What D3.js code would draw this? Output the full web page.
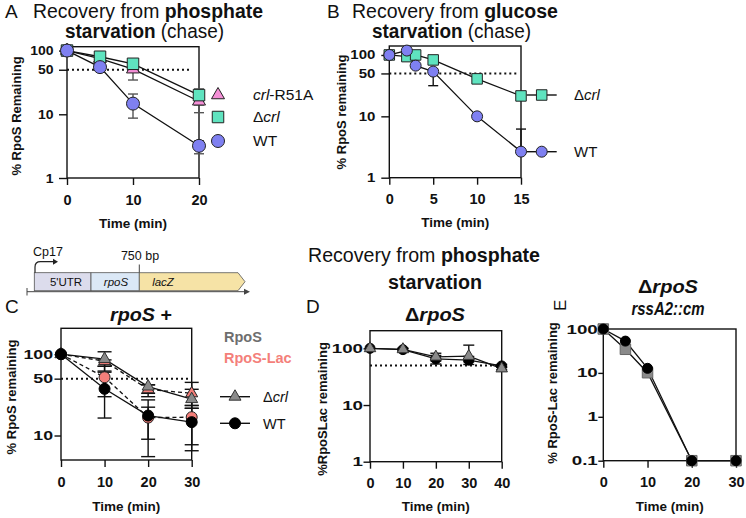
<!DOCTYPE html>
<html><head><meta charset="utf-8">
<script src="https://cdn.jsdelivr.net/npm/d3@7"></script>
<style>body{margin:0;background:#fff}svg{display:block}</style>
</head><body>
<svg id="fig" width="746" height="518"></svg>
<script>
// ================= DATA =================
// Panel A: recovery from phosphate starvation (chase)
const timeA = [0, 5, 10, 20];
const aR51A   = [100, 75, 51, 16];
const aR51ALo = [null, null, 34.5, 10.6];
const aR51AHi = [null, null, 62, 22];
const aCrl    = [100, 80, 62, 20];
const aCrlLo  = [null, null, 56, 14];
const aCrlHi  = [null, null, 66, 25];
const aWT     = [100, 55, 14.7, 3.2];
const aWTLo   = [null, 52, 8.7, 2.4];
const aWTHi   = [null, 58, 20.8, 3.85];
const xTicksA = [0, 10, 20];
const yTicksA = [1, 10, 50, 100];
const halfA = [0, 18.5];

// Panel B: recovery from glucose starvation (chase)
const timeB = [0, 2, 3, 5, 10, 15];
const bCrl    = [100, 94, 100, 83, 40.8, 21.5];
const bCrlLo  = [null, null, null, 73, null, null];
const bCrlHi  = [null, null, null, 88, null, null];
const bWT     = [100, 118, 67, 53.6, 10, 2.66];
const bWTLo   = [null, null, null, 31.6, null, null];
const bWTHi   = [null, null, null, 58, null, 6.2];
const xTicksB = [0, 5, 10, 15];
const yTicksB = [1, 10, 50, 100];
const halfB = [0, 14.7];

// Panel C: rpoS +
const timeC = [0, 10, 20, 30];
const cCrlLac   = [100, 82, 37, 33];
const cCrlLacLo = [null, 62, 30, 23.4];
const cCrlLacHi = [null, 85, 42, 45];
const cWTLac    = [100, 52, 16.6, 16.8];
const cWTLacLo  = [null, 30, 9, 6.5];
const cWTLacHi  = [null, 71, 22.3, 21.6];
const cCrlRpoS   = [100, 87, 40, 28];
const cCrlRpoSLo = [null, 71, 33, 21.6];
const cCrlRpoSHi = [null, 107, 42, 37];
const cWTRpoS    = [100, 37.5, 17.6, 14.6];
const cWTRpoSLo  = [null, 16.4, 5.5, 7.7];
const cWTRpoSHi  = [null, 60, 27.4, 23.4];
const xTicksC = [0, 10, 20, 30];
const yTicksC = [10, 50, 100];
const halfC = [0, 30];

// Panel D: ΔrpoS
const timeD = [0, 10, 20, 30, 40];
const dCirc   = [100, 95, 65, 62, 49];
const dCircLo = [null, 90, 53, 52, 46];
const dCircHi = [null, 100, 75, 72, 52];
const dTri    = [100, 96, 71, 73, 44];
const dTriLo  = [null, 90, 60, 58, 42];
const dTriHi  = [null, 100, 82, 114, 47];
const xTicksD = [0, 10, 20, 30, 40];
const yTicksD = [1, 10, 100];
const halfD = [0, 40];

// Panel E: ΔrpoS rssA2::cm
const timeE = [0, 5, 10, 20, 30];
const eSq   = [100, 34.5, 10.1, 0.1, 0.1];
const eCirc = [100, 53, 12.7, 0.1, 0.1];
const xTicksE = [0, 10, 20, 30];
const yTicksE = [0.1, 1, 10, 100];

// ================= DRAWING =================
const FONT = '"Liberation Sans", Arial, Helvetica, sans-serif';
const svg = d3.select("#fig").attr("font-family", FONT);

const C_CIRC = "#7f80f1", C_SQ = "#5fe3bf", C_TRI = "#f48fd6";
const C_GRAY = "#8a8a8a", C_PINK = "#f47f7a";

function styleAxis(sel, fs) {
  sel.attr("font-family", FONT).attr("font-size", null);
  sel.select(".domain").remove();
  sel.selectAll(".tick line").attr("stroke", "#111").attr("stroke-width", 1.4);
  sel.selectAll(".tick text").attr("font-size", fs).attr("font-weight", "bold").attr("fill", "#111");
}

function makePanel(o) {
  const g = svg.append("g");
  const x = d3.scaleLinear().domain(o.xDomain).range([o.left, o.right]);
  const y = d3.scaleLog().domain(o.yDomain).range([o.bottom, o.top]);
  g.append("rect").attr("x", o.left).attr("y", o.top)
    .attr("width", o.right - o.left).attr("height", o.bottom - o.top)
    .attr("fill", "none").attr("stroke", "#111").attr("stroke-width", 1.4);
  const ya = g.append("g").attr("transform", `translate(${o.left},0)`)
    .call(d3.axisLeft(y).tickValues(o.yTicks).tickFormat(d3.format("~g")).tickSize(o.yts).tickPadding(o.ygap - o.yts))
    .call(styleAxis, 12.5);
  ya.selectAll(".tick text").attr("x", -o.ygap / o.ysx).attr("transform", `scale(${o.ysx},1)`);
  g.append("g").attr("transform", `translate(0,${o.bottom})`)
    .call(d3.axisBottom(x).tickValues(o.xTicks).tickFormat(d3.format("~g")).tickSize(7).tickPadding(9.5))
    .call(styleAxis, 14.5);
  if (o.half) {
    g.append("line").attr("x1", x(o.half[0])).attr("x2", x(o.half[1]))
      .attr("y1", y(50)).attr("y2", y(50))
      .attr("stroke", "#111").attr("stroke-width", 2).attr("stroke-dasharray", "2,3");
  }
  g.append("text").attr("transform", `translate(${o.ylx},${o.yly}) rotate(-90)`)
    .attr("text-anchor", "middle").attr("dy", "0.35em")
    .attr("font-size", 13).attr("font-weight", "bold").attr("fill", "#111").text(o.ylabel);
  g.append("text").attr("x", (o.left + o.right) / 2 + (o.xlDx || 0)).attr("y", o.bottom + o.xlDy)
    .attr("text-anchor", "middle").attr("dy", "0.35em")
    .attr("font-size", 13.5).attr("font-weight", "bold").attr("fill", "#111").text("Time (min)");
  return { g, x, y };
}

function symPath(shape, d) {
  if (shape === "circle") return d3.symbol(d3.symbolCircle, Math.PI * d * d / 4)();
  if (shape === "square") return d3.symbol(d3.symbolSquare, d * d)();
  return d3.symbol(d3.symbolTriangle, Math.sqrt(3) / 4 * d * d)();
}

function drawErr(p, xs, lo, hi, opt) {
  const cw = opt.capW || 10;
  xs.forEach((t, i) => {
    if (lo && lo[i] != null || hi && hi[i] != null) {
      const l = lo && lo[i] != null ? lo[i] : opt.vals[i];
      const h = hi && hi[i] != null ? hi[i] : opt.vals[i];
      const X = p.x(t);
      p.g.append("line").attr("x1", X).attr("x2", X).attr("y1", p.y(l)).attr("y2", p.y(h))
        .attr("stroke", opt.errColor || "#111").attr("stroke-width", 1.4);
      [l, h].forEach(v => {
        if (v !== opt.vals[i]) p.g.append("line").attr("x1", X - cw / 2).attr("x2", X + cw / 2)
          .attr("y1", p.y(v)).attr("y2", p.y(v))
          .attr("stroke", opt.errColor || "#111").attr("stroke-width", 1.4);
      });
    }
  });
}

function drawLine(p, xs, vals, opt) {
  p.g.append("path").datum(xs.map((t, i) => [t, vals[i]]))
    .attr("d", d3.line().x(d => p.x(d[0])).y(d => p.y(d[1])))
    .attr("fill", "none").attr("stroke", "#111").attr("stroke-width", opt.lw || 1.3)
    .attr("stroke-dasharray", opt.dash || null);
}

function drawMarks(p, xs, vals, opt) {
  p.g.selectAll(null).data(xs.map((t, i) => [t, vals[i]])).enter().append("path")
    .attr("transform", d => `translate(${p.x(d[0])},${p.y(d[1])})`)
    .attr("d", symPath(opt.shape, opt.size))
    .attr("fill", opt.fill).attr("stroke", opt.stroke || "#222").attr("stroke-width", opt.sw || 1);
}

function legendMark(x, y, shape, size, fill, stroke, lineHalf) {
  if (lineHalf) svg.append("line").attr("x1", x - lineHalf).attr("x2", x + lineHalf)
    .attr("y1", y).attr("y2", y).attr("stroke", "#111").attr("stroke-width", 1.4);
  svg.append("path").attr("transform", `translate(${x},${y})`).attr("d", symPath(shape, size))
    .attr("fill", fill).attr("stroke", stroke || "#222").attr("stroke-width", 1);
}

function richText(x, y, parts, o) {
  const t = svg.append("text").attr("x", x).attr("y", y).attr("font-size", o.size)
    .attr("fill", o.fill || "#111").attr("text-anchor", o.anchor || "start");
  if (o.len) t.attr("textLength", o.len).attr("lengthAdjust", "spacingAndGlyphs");
  parts.forEach(pt => {
    t.append("tspan").attr("font-weight", pt.b ? "bold" : "normal")
      .attr("font-style", pt.i ? "italic" : "normal").attr("fill", pt.c || null).text(pt.t);
  });
  return t;
}

// ---------- Panel A ----------
const pA = makePanel({ left: 67, right: 199, top: 46.7, bottom: 178, xDomain: [0, 20], yDomain: [1, 115],
  xTicks: xTicksA, yTicks: yTicksA, half: halfA, ylabel: "% RpoS Remaining", ylx: 16, yly: 116, xlDy: 45,
  yts: 8, ygap: 13.5, ysx: 1.12 });
drawErr(pA, timeA, aR51ALo, aR51AHi, { vals: aR51A, errColor: "#555", capW: 10 });
drawErr(pA, timeA, aCrlLo, aCrlHi, { vals: aCrl, errColor: "#555", capW: 10 });
drawErr(pA, timeA, aWTLo, aWTHi, { vals: aWT, errColor: "#555", capW: 10 });
drawLine(pA, timeA, aR51A, {}); drawLine(pA, timeA, aCrl, {}); drawLine(pA, timeA, aWT, {});
drawMarks(pA, timeA, aR51A, { shape: "triangle", size: 13, fill: C_TRI });
drawMarks(pA, timeA, aCrl, { shape: "square", size: 11.5, fill: C_SQ });
drawMarks(pA, timeA, aWT, { shape: "circle", size: 13, fill: C_CIRC });
legendMark(218, 95, "triangle", 13, C_TRI);
legendMark(218, 117, "square", 11.5, C_SQ);
legendMark(218, 141, "circle", 13, C_CIRC);
richText(253, 100, [{ t: "crl", i: 1 }, { t: "-R51A" }], { size: 15.5 });
richText(253, 122, [{ t: "Δ" }, { t: "crl", i: 1 }], { size: 15.5 });
richText(253, 146, [{ t: "WT" }], { size: 15.5 });
svg.append("text").attr("x", 5).attr("y", 18).attr("font-size", 19).attr("fill", "#111").text("A");
richText(33, 18, [{ t: "Recovery from " }, { t: "phosphate", b: 1 }], { size: 19.5, len: 230 });
richText(65, 38, [{ t: "starvation", b: 1 }, { t: " (chase)" }], { size: 19.5, len: 159 });

// ---------- Panel B ----------
const pB = makePanel({ left: 389.3, right: 521, top: 46, bottom: 177.7, xDomain: [0, 15], yDomain: [1, 140],
  xTicks: xTicksB, yTicks: yTicksB, half: halfB, ylabel: "% RpoS remaining", ylx: 341, yly: 112, xlDy: 45,
  yts: 8, ygap: 14, ysx: 1.2 });
drawErr(pB, timeB, bCrlLo, bCrlHi, { vals: bCrl, capW: 10 });
drawErr(pB, timeB, bWTLo, bWTHi, { vals: bWT, capW: 10 });
drawLine(pB, timeB, bCrl, {}); drawLine(pB, timeB, bWT, {});
drawMarks(pB, timeB, bCrl, { shape: "square", size: 10.5, fill: C_SQ });
drawMarks(pB, timeB, bWT, { shape: "circle", size: 11, fill: C_CIRC });
legendMark(541.7, 95, "square", 10.5, C_SQ, null, 15);
legendMark(541.7, 151.7, "circle", 11, C_CIRC, null, 15);
richText(574, 100, [{ t: "Δ" }, { t: "crl", i: 1 }], { size: 15 });
richText(574, 157, [{ t: "WT" }], { size: 15 });
svg.append("text").attr("x", 327).attr("y", 18).attr("font-size", 19).attr("fill", "#111").text("B");
richText(352, 18, [{ t: "Recovery from " }, { t: "glucose", b: 1 }], { size: 19.5 });
richText(372, 38, [{ t: "starvation", b: 1 }, { t: " (chase)" }], { size: 19.5, len: 159 });

// ---------- Gene diagram ----------
const gd = svg.append("g");
gd.append("line").attr("x1", 27).attr("x2", 246).attr("y1", 291.7).attr("y2", 291.7).attr("stroke", "#444").attr("stroke-width", 1);
gd.append("line").attr("x1", 27).attr("x2", 27).attr("y1", 288).attr("y2", 295.5).attr("stroke", "#444").attr("stroke-width", 1);
gd.append("path").attr("d", "M244,288.7 L250,291.7 L244,294.7 Z").attr("fill", "#444");
gd.append("rect").attr("x", 34.3).attr("y", 272.7).attr("width", 56.7).attr("height", 18).attr("fill", "#dcdcec").attr("stroke", "#555").attr("stroke-width", 0.8);
gd.append("rect").attr("x", 91).attr("y", 272.7).attr("width", 48.3).attr("height", 18).attr("fill", "#dbe8f6").attr("stroke", "#555").attr("stroke-width", 0.8);
gd.append("path").attr("d", "M139.3,272.7 L238,272.7 L245,281.7 L238,290.7 L139.3,290.7 Z").attr("fill", "#f6e3a6").attr("stroke", "#555").attr("stroke-width", 0.8);
gd.append("path").attr("d", "M35,272.7 L35,267 Q35,261.7 40.5,261.7 L54,261.7").attr("fill", "none").attr("stroke", "#222").attr("stroke-width", 1.2);
gd.append("path").attr("d", "M53,258.7 L58,261.7 L53,264.7 Z").attr("fill", "#222");
gd.append("line").attr("x1", 139.3).attr("x2", 139.3).attr("y1", 264.5).attr("y2", 272.7).attr("stroke", "#444").attr("stroke-width", 1);
richText(66, 285.5, [{ t: "5'UTR" }], { size: 11.5, anchor: "middle" });
richText(116, 285.5, [{ t: "rpoS", i: 1 }], { size: 11.5, anchor: "middle" });
richText(163, 285.5, [{ t: "lacZ", i: 1 }], { size: 11.5, anchor: "middle" });
richText(33, 256, [{ t: "Cp17" }], { size: 12.5 });
richText(140, 259.5, [{ t: "750 bp" }], { size: 12.5, anchor: "middle" });

// ---------- Panel C ----------
const pC = makePanel({ left: 61, right: 191.7, top: 328.3, bottom: 460, xDomain: [0, 30], yDomain: [5, 208],
  xTicks: xTicksC, yTicks: yTicksC, half: halfC, ylabel: "% RpoS remaining", ylx: 11, yly: 397, xlDy: 46.7,
  yts: 6.5, ygap: 8, ysx: 1.42 });
drawErr(pC, timeC, cCrlLacLo, cCrlLacHi, { vals: cCrlLac, capW: 14 });
drawErr(pC, timeC, cWTLacLo, cWTLacHi, { vals: cWTLac, capW: 14 });
drawErr(pC, timeC, cCrlRpoSLo, cCrlRpoSHi, { vals: cCrlRpoS, capW: 14 });
drawErr(pC, timeC, cWTRpoSLo, cWTRpoSHi, { vals: cWTRpoS, capW: 14 });
drawLine(pC, timeC, cCrlLac, { dash: "4,3" }); drawLine(pC, timeC, cWTLac, { dash: "4,3" });
drawLine(pC, timeC, cCrlRpoS, {}); drawLine(pC, timeC, cWTRpoS, {});
drawMarks(pC, timeC, cCrlLac, { shape: "triangle", size: 12, fill: C_PINK });
drawMarks(pC, timeC, cWTLac, { shape: "circle", size: 11, fill: C_PINK });
drawMarks(pC, timeC, cCrlRpoS, { shape: "triangle", size: 12, fill: C_GRAY, stroke: "#333" });
drawMarks(pC, timeC, cWTRpoS, { shape: "circle", size: 11, fill: "#000", stroke: "#000" });
richText(224, 342, [{ t: "RpoS", b: 1, c: "#6e6e6e" }], { size: 14.5 });
richText(224, 363, [{ t: "RpoS-Lac", b: 1, c: "#f47f7a" }], { size: 14.5 });
legendMark(235, 396.7, "triangle", 12, C_GRAY, "#333", 15);
legendMark(235, 423.3, "circle", 11, "#000", "#000", 15);
richText(263, 402, [{ t: "Δ" }, { t: "crl", i: 1 }], { size: 14.5 });
richText(263, 428.5, [{ t: "WT" }], { size: 14.5 });
svg.append("text").attr("x", 5).attr("y", 313).attr("font-size", 19).attr("fill", "#111").text("C");
richText(141, 321, [{ t: "rpoS", b: 1, i: 1 }, { t: " +", b: 1 }], { size: 18, anchor: "middle", len: 62 });

// ---------- Panel D ----------
const pD = makePanel({ left: 370, right: 501.7, top: 330.7, bottom: 461.7, xDomain: [0, 40], yDomain: [1, 205],
  xTicks: xTicksD, yTicks: yTicksD, half: halfD, ylabel: "%RpoSLac remaining", ylx: 322, yly: 409, xlDy: 45,
  yts: 6.5, ygap: 7, ysx: 1.5 });
drawErr(pD, timeD, dCircLo, dCircHi, { vals: dCirc, capW: 11 });
drawErr(pD, timeD, dTriLo, dTriHi, { vals: dTri, capW: 11 });
drawLine(pD, timeD, dCirc, {}); drawLine(pD, timeD, dTri, {});
drawMarks(pD, timeD, dCirc, { shape: "circle", size: 10, fill: "#000", stroke: "#000" });
drawMarks(pD, timeD, dTri, { shape: "triangle", size: 11.5, fill: C_GRAY, stroke: "#333" });
svg.append("text").attr("x", 306).attr("y", 313).attr("font-size", 19).attr("fill", "#111").text("D");
richText(435, 321, [{ t: "Δ", b: 1 }, { t: "rpoS", b: 1, i: 1 }], { size: 18, anchor: "middle", len: 60 });
richText(308, 262, [{ t: "Recovery from " }, { t: "phosphate", b: 1 }], { size: 19.5, len: 232 });
richText(435, 289, [{ t: "starvation", b: 1 }], { size: 20, anchor: "middle", len: 94 });

// ---------- Panel E ----------
const pE = makePanel({ left: 603.3, right: 736, top: 329, bottom: 460.7, xDomain: [0, 30], yDomain: [0.1, 100],
  xTicks: xTicksE, yTicks: yTicksE, half: null, ylabel: "% RpoS-Lac remaining", ylx: 552, yly: 393, xlDy: 46,
  yts: 5, ygap: 5.5, ysx: 1.5 });
drawLine(pE, timeE, eSq, {}); drawLine(pE, timeE, eCirc, {});
drawMarks(pE, timeE, eSq, { shape: "square", size: 10.5, fill: C_GRAY, stroke: "#666" });
drawMarks(pE, timeE, eCirc, { shape: "circle", size: 10, fill: "#000", stroke: "#000" });
svg.append("text").attr("transform", "translate(566,311) rotate(-90)").attr("font-size", 17).attr("fill", "#111").text("E");
richText(668, 292.5, [{ t: "Δ", b: 1 }, { t: "rpoS", b: 1, i: 1 }], { size: 18, anchor: "middle", len: 60 });
richText(668, 315, [{ t: "rssA2::cm", b: 1, i: 1 }], { size: 18, anchor: "middle", len: 73 });
</script>
</body></html>
